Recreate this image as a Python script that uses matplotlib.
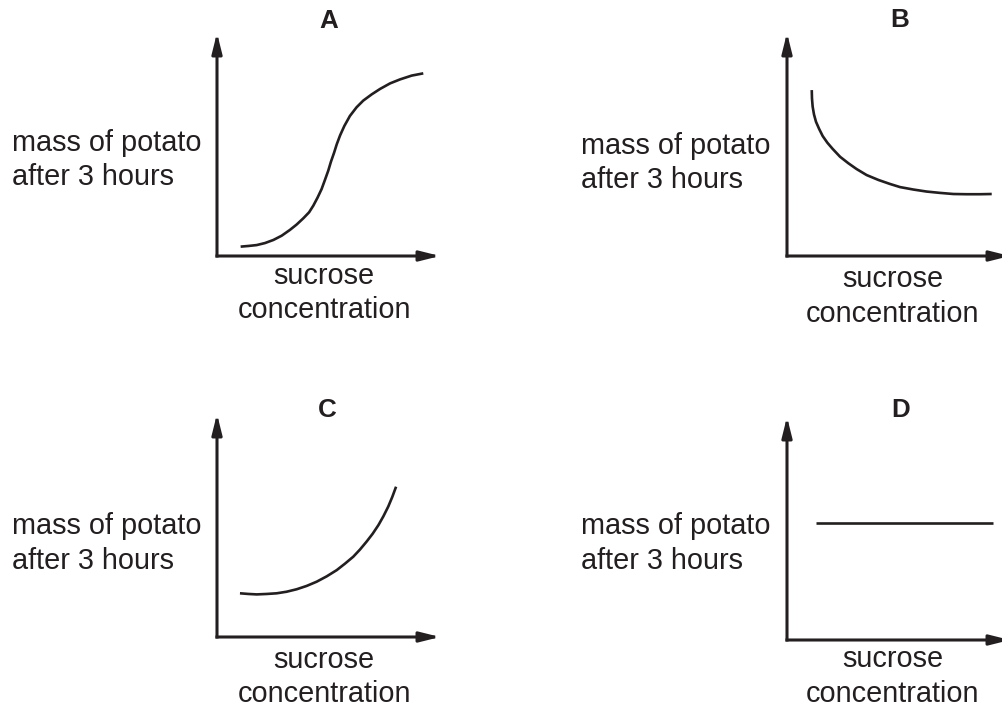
import matplotlib
matplotlib.use("Agg")
import matplotlib.pyplot as plt

plt.rcParams["font.family"] = ["Liberation Sans", "DejaVu Sans"]

INK = "#231f20"

# curve values (axis length = 10 units)
a_x = [1.06, 1.41, 1.78, 2.15, 2.53, 2.90, 3.27, 3.57, 3.87, 4.13, 4.32, 4.51, 4.69, 4.84, 4.99,
       5.11, 5.25, 5.37, 5.52, 5.71, 5.96, 6.26, 6.56, 6.94, 7.31, 7.76, 8.21, 8.73, 9.25]
a_y = [0.42, 0.45, 0.49, 0.58, 0.72, 0.91, 1.17, 1.41, 1.69, 1.96, 2.26, 2.62, 3.00, 3.41, 3.83,
       4.23, 4.63, 5.01, 5.41, 5.83, 6.28, 6.67, 6.97, 7.25, 7.49, 7.74, 7.92, 8.09, 8.19]

b_x = [1.11, 1.12, 1.15, 1.21, 1.30, 1.44, 1.60, 1.81, 2.05, 2.38, 2.75, 3.12, 3.57, 4.10, 4.62,
       5.07, 5.67, 6.26, 6.86, 7.46, 8.06, 8.66, 9.18]
b_y = [7.44, 7.07, 6.70, 6.35, 6.02, 5.70, 5.38, 5.08, 4.80, 4.45, 4.16, 3.90, 3.63, 3.41, 3.23,
       3.09, 2.98, 2.89, 2.83, 2.78, 2.77, 2.77, 2.78]

c_x = [1.03, 1.41, 1.78, 2.23, 2.68, 3.12, 3.57, 4.02, 4.47, 4.92, 5.37, 5.74, 6.11, 6.41, 6.71,
       6.98, 7.24, 7.46, 7.68, 7.86, 8.03]
c_y = [1.96, 1.93, 1.91, 1.93, 1.96, 2.03, 2.14, 2.29, 2.48, 2.72, 3.00, 3.29, 3.60, 3.92, 4.28,
       4.63, 5.02, 5.41, 5.85, 6.28, 6.74]

d_x = [1.30, 9.24]
d_y = [5.25, 5.25]

panel_names = ["A", "B", "C", "D"]
ylabel_lines = ["mass of potato", "after 3 hours"]
xlabel_lines = ["sucrose", "concentration"]

W, H = 1002, 707
fig = plt.figure(figsize=(W / 100, H / 100), dpi=100)
fig.patch.set_facecolor("white")

# (origin x px, origin y px) of each panel, axis length 223 px
origins = [(217, 256), (787, 256), (217, 637), (787, 640)]
title_pos = [(5.0, 10.22), (5.07, 10.26), (4.96, 9.87), (5.1, 10.0)]
ylab_pos = [(-9.19, 4.71, 3.18), (-9.24, 4.57, 3.05), (-9.19, 4.62, 3.05), (-9.24, 4.75, 3.18)]
xlab_pos = [(4.8, -1.26, -2.78), (4.75, -1.39, -2.96), (4.8, -1.39, -2.91), (4.75, -1.21, -2.78)]
curves = [(a_x, a_y), (b_x, b_y), (c_x, c_y), (d_x, d_y)]

L = 223
for i, name in enumerate(panel_names):
    ox, oy = origins[i]
    ax = fig.add_axes([ox / W, (H - oy) / H, L / W, L / H])
    ax.set_xlim(0, 10)
    ax.set_ylim(0, 10)
    ax.axis("off")

    # arrowed axes
    for tip in [(10, 0), (0, 10)]:
        ax.annotate("", xy=tip, xytext=(0, 0), annotation_clip=False,
                    arrowprops=dict(arrowstyle="-|>,head_length=0.6,head_width=0.15",
                                    mutation_scale=20, lw=2.2, color=INK,
                                    shrinkA=0, shrinkB=0, capstyle="projecting"))

    cx, cy = curves[i]
    ax.plot(cx, cy, color=INK, lw=1.9, solid_capstyle="butt",
            solid_joinstyle="round", clip_on=False)

    tx, ty = title_pos[i]
    ax.text(tx, ty, name, ha="center", va="baseline", fontsize=18.7,
            fontweight="bold", color=INK, clip_on=False)

    lx, ly1, ly2 = ylab_pos[i]
    ax.text(lx, ly1, ylabel_lines[0], ha="left", va="baseline", fontsize=20.8, color=INK)
    ax.text(lx, ly2, ylabel_lines[1], ha="left", va="baseline", fontsize=20.8, color=INK)

    sx, sy1, sy2 = xlab_pos[i]
    ax.text(sx, sy1, xlabel_lines[0], ha="center", va="baseline", fontsize=20.8, color=INK)
    ax.text(sx, sy2, xlabel_lines[1], ha="center", va="baseline", fontsize=20.8, color=INK)

fig.savefig("out.png", dpi=100, facecolor="white")
